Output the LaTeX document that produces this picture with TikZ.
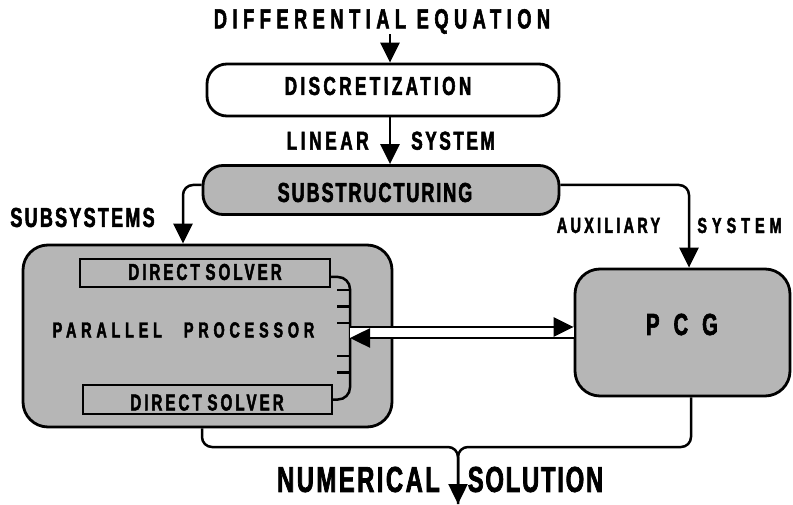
\documentclass[tikz,border=0pt]{standalone}
\usepackage{fontspec}
\newfontfamily\diagfont{Liberation Sans}[UprightFont=* Bold, FakeStretch=0.66, FakeBold=2]
\usetikzlibrary{arrows.meta, calc, positioning}
\definecolor{HalfTone}{RGB}{182,182,182}

\begin{document}
\begin{tikzpicture}[x=1pt, y=-1pt,
    lbl/.style 2 args={inner sep=0pt,
        font=\diagfont\fontsize{#1}{#1}\selectfont\addfontfeatures{LetterSpace=#2}},
    stage/.style={draw, line width=2.8pt, rounded corners=20pt, inner sep=0pt},
    solver/.style={draw, line width=2.4pt, fill=HalfTone, inner sep=0pt},
    conn/.style={line width=2.5pt},
    arr/.style={conn, -{Triangle[length=20pt, width=19pt]}}]

    \useasboundingbox (0,0) rectangle (793,505);

    % Helper columns for the vertical connectors
    \coordinate (cx) at (390,0);   % main flow
    \coordinate (sx) at (183,0);   % subsystems
    \coordinate (ax) at (689,0);   % auxiliary system
    \coordinate (bx) at (350,0);   % solver bus
    \coordinate (lx) at (202,0);   % processor output
    \coordinate (rx) at (691,0);   % pcg output

    % Top of the flow
    \node[lbl={27.6}{20}] (title) at (382,21.5) {DIFFERENTIAL EQUATION};
    \node[stage, fill=white, minimum width=352pt, minimum height=52pt] (discr) at (383,90) {};
    \node[lbl={26}{13}] (discrtxt) at (378,86) {DISCRETIZATION};
    \node[stage, fill=HalfTone, minimum width=356pt, minimum height=49pt] (subst) at (381,190) {};
    \node[lbl={27.4}{7}] (substtxt) at (375,192.5) {SUBSTRUCTURING};

    \draw[arr] (title.south -| cx) -- (discr.north -| cx);
    \draw[arr] (discr.south -| cx) -- (subst.north -| cx)
        node[midway, lbl={26}{14}, left=20pt] (linear) {LINEAR}
        node[midway, lbl={26}{10}, right=20pt] (system) {SYSTEM};

    % Parallel processor with its two direct solvers
    \node[stage, fill=HalfTone, rounded corners=25pt, minimum width=369pt, minimum height=182pt] (par) at (207.5,336) {};
    \node[solver, minimum width=250pt, minimum height=28pt] (solverA) at (205,273) {};
    \node[lbl={23}{13}] at (205,272) (solverAtxt) {DIRECT\hspace{-1.5pt} SOLVER};
    \node[solver, minimum width=249pt, minimum height=29pt] (solverB) at (207.5,399.5) {};
    \node[lbl={23}{13}] at (207,402.5) (solverBtxt) {DIRECT\hspace{-1.5pt} SOLVER};
    \node[lbl={21.8}{22}] (partxt) at (183.5,330) {PARALLEL\hspace{22pt}PROCESSOR};

    % Bus joining the solvers
    \draw[conn, rounded corners=12pt] ([yshift=-4pt]solverA.east)
        -| ($(solverA.east -| bx)!.5!(solverB.east -| bx)$) |- (solverB.east);
    \foreach \ty in {290,306.5,323,356,372.5}
        \draw[conn] (337,\ty) -- (bx |- 0,\ty);

    % Preconditioned conjugate gradient
    \node[stage, fill=HalfTone, rounded corners=25pt, minimum width=215pt, minimum height=127pt] (pcg) at (682.5,332.5) {};
    \node[lbl={30.5}{0}] (pcgtxt) at (682,324.5) {P\hspace{14pt}C\hspace{14pt}G};

    % Exchange between processor and pcg
    \coordinate (up) at (350,327);
    \coordinate (lo) at (350,338);
    \fill[white] (up) rectangle (lo -| pcg.west);
    \draw[arr] (up) -- (up -| pcg.west);
    \draw[arr] (lo -| pcg.west) -- (lo);

    % Branches out of the substructuring
    \draw[arr, rounded corners=10pt] ([yshift=5pt]subst.west) -| (par.north -| sx);
    \node[lbl={27.4}{8}] (subsys) at (82.5,217.5) {SUBSYSTEMS};
    \draw[arr, rounded corners=10pt] ([yshift=5pt]subst.east) -| (pcg.north -| ax);
    \node[lbl={21.8}{15}] (aux) at (608.5,225.5) {AUXILIARY};
    \node[lbl={21.8}{23}] (auxsys) at (739.5,225.5) {SYSTEM};

    % Merging into the solution
    \coordinate (jn) at (458,447);
    \coordinate (out) at (458,504);
    \draw[conn, rounded corners=10pt] (par.south -| lx) |- (jn) -- (out);
    \draw[arr, rounded corners=10pt] (pcg.south -| rx) |- (jn) -- (out);
    \node[lbl={36}{7}] (numer) at (358.5,479.5) {NUMERICAL};
    \node[lbl={36}{5}] (solut) at (535.5,479.5) {SOLUTION};

\end{tikzpicture}
\end{document}
